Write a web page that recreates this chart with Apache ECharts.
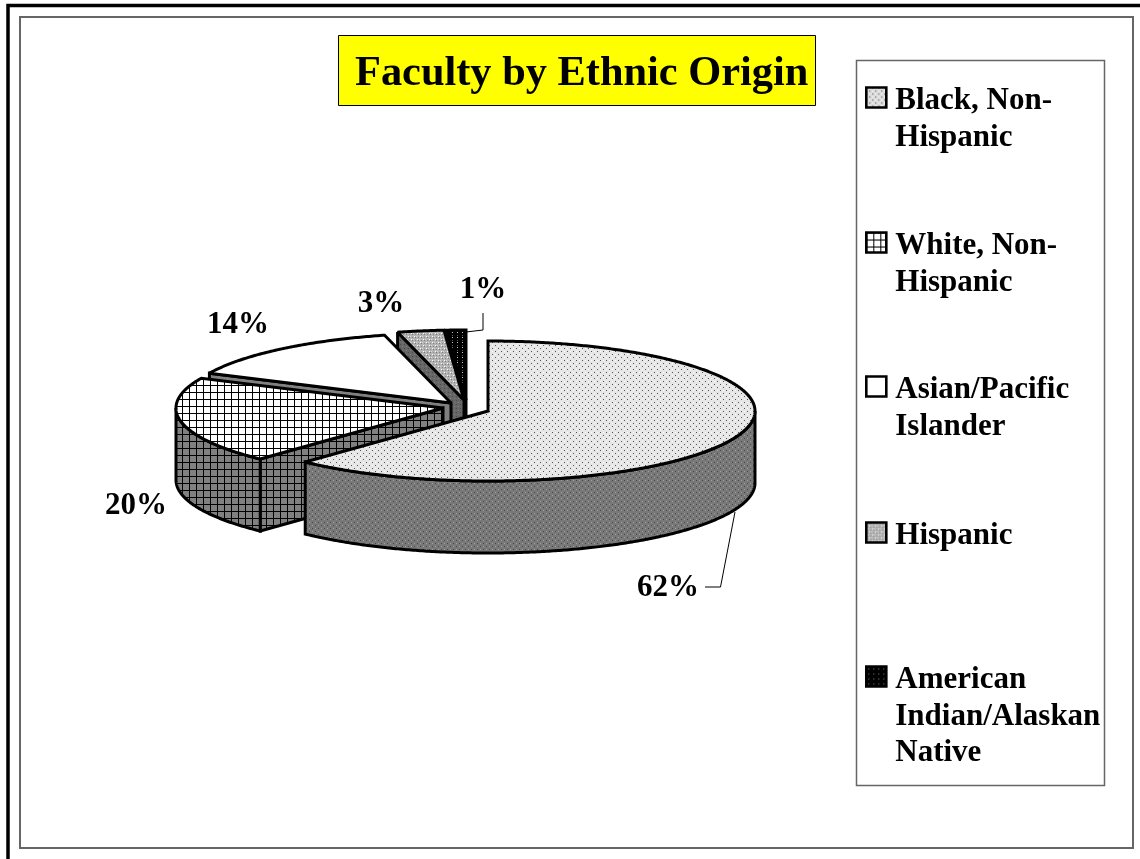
<!DOCTYPE html>
<html>
<head>
<meta charset="utf-8">
<style>html,body{margin:0;padding:0;background:#fff}#c{width:1140px;height:859px}</style>
<script src="https://cdn.jsdelivr.net/npm/echarts@6/dist/echarts.min.js"></script>
</head>
<body>
<div id="c"></div>
<script>
// ---- data ----
const categories = ['Black, Non-Hispanic', 'White, Non-Hispanic', 'Asian/Pacific Islander', 'Hispanic', 'American Indian/Alaskan Native'];
const legendLines = [['Black, Non-', 'Hispanic'], ['White, Non-', 'Hispanic'], ['Asian/Pacific', 'Islander'], ['Hispanic'], ['American', 'Indian/Alaskan', 'Native']];
const shares = [62, 20, 14, 2.8, 1.2];
const titleText = 'Faculty by Ethnic Origin';

// ---- layout (not data) ----
const RX = 267, RY = 70, DEPTH = 72;
const centers = [[488, 411], [443, 408], [451, 403], [464, 400], [466, 400]];
const labelPos = [[668, 586], [136, 504], [238, 323], [381, 302], [483, 288]];
const leaders = [[[735, 512], [720.5, 587], [705, 587]], null, null, null, [[466, 332], [483, 330], [483, 313]]];
const legendFirstLineY = [98, 243, 387, 533, 677];
const LINE_H = 36.5, TEXT_SHIFT = 7, FONT = '"Liberation Serif"';

// ---- patterns ----
function tile(w, h, base, pts) {
  const c = document.createElement('canvas'); c.width = w; c.height = h;
  const g = c.getContext('2d');
  g.fillStyle = base; g.fillRect(0, 0, w, h);
  pts.forEach(p => { g.fillStyle = p[2]; g.fillRect(p[0], p[1], p[3] || 1, p[4] || 1); });
  return { image: c, repeat: 'repeat' };
}
const stipple = (base, dark, light) => tile(6, 6, base, [[0, 0, dark], [3, 3, dark], [3, 0, light], [0, 3, light]]);
function grid(base) {
  const c = document.createElement('canvas'); c.width = 7; c.height = 7;
  const g = c.getContext('2d');
  g.fillStyle = base; g.fillRect(0, 0, 7, 7);
  g.fillStyle = '#000'; g.fillRect(0, 0, 7, 1); g.fillRect(0, 0, 1, 7);
  return { image: c, repeat: 'repeat' };
}
const hisp = tile(6, 6, '#b4b4b4', [[0, 0, '#ffffff', 1, 1], [3, 3, '#ffffff', 1, 1], [1, 1, '#7a7a7a'], [4, 4, '#7a7a7a'], [4, 1, '#8a8a8a'], [1, 4, '#8a8a8a'], [2, 0, '#d8d8d8'], [5, 3, '#d8d8d8']]);
const hispSide = tile(4, 4, '#666666', [[0, 0, '#4a4a4a'], [2, 2, '#808080']]);
const topFill = [stipple('#e6e6e6', '#555555', '#ffffff'), grid('#ffffff'), '#ffffff', hisp, tile(5, 5, '#000000', [[2, 2, '#c8c8c8'], [2, 0, '#555555']])];
const sideFill = [stipple('#787878', '#444444', '#a0a0a0'), grid('#808080'), '#808080', hispSide, tile(5, 5, '#000000', [[2, 2, '#777777']])];
const legendFill = [stipple('#dcdcdc', '#555555', '#ffffff'), grid('#ffffff'), '#ffffff', hisp, tile(5, 5, '#000000', [[2, 2, '#888888']])];

// ---- geometry derived from the shares ----
const total = shares.reduce((a, b) => a + b, 0);
const angles = [];
shares.reduce((acc, v) => { angles.push([acc / total * 360, (acc + v) / total * 360]); return acc + v; }, 0);
const rad = d => d * Math.PI / 180;
const edge = (c, a) => [c[0] + RX * Math.sin(rad(a)), c[1] - RY * Math.cos(rad(a))];
function arc(c, a0, a1) {
  const n = Math.max(2, Math.ceil(Math.abs(a1 - a0) * 2)), out = [];
  for (let i = 0; i <= n; i++) out.push(edge(c, a0 + (a1 - a0) * i / n));
  return out;
}
const down = p => [p[0], p[1] + DEPTH];
const STROKE = 3;

function renderSlice(i, value) {
  const span = value / total * 360;
  const a0 = angles[i][0], a1 = a0 + span, c = centers[i];
  const kids = [];
  const face = (pts, fill) => kids.push({ type: 'polygon', shape: { points: pts }, style: { fill: fill, stroke: '#000', lineWidth: STROKE, lineJoin: 'miter', miterLimit: 2 } });
  // visible cut face on the start radius
  if (Math.sin(rad(a0)) < -1e-6) {
    const e = edge(c, a0);
    face([c, e, down(e), down(c)], sideFill[i]);
  }
  // visible cut face on the end radius
  if (Math.sin(rad(a1)) > 1e-6) {
    const e = edge(c, a1);
    face([c, e, down(e), down(c)], sideFill[i]);
  }
  // visible outer rim
  const r0 = Math.max(a0, 90), r1 = Math.min(a1, 270);
  if (r1 > r0) {
    const top = arc(c, r0, r1);
    face(top.concat(top.map(down).reverse()), sideFill[i]);
  }
  // top surface
  face([c].concat(arc(c, a0, a1)), topFill[i]);
  // leader line
  if (leaders[i]) kids.push({ type: 'polyline', shape: { points: leaders[i] }, style: { fill: null, stroke: '#000', lineWidth: 1 } });
  // percent label
  kids.push({ type: 'text', x: labelPos[i][0], y: labelPos[i][1] + 2, style: { text: Math.round(value) + '%', fill: '#000', font: 'bold 31px ' + FONT, align: 'center', verticalAlign: 'middle' } });
  return { type: 'group', children: kids };
}

const series = categories.map((name, i) => ({
  type: 'custom', name: name, coordinateSystem: 'none', silent: true, animation: false,
  z: 5 - i, data: [shares[i]],
  itemStyle: { color: '#888' },
  renderItem: (p, api) => renderSlice(i, api.value(0))
}));

const legends = categories.map((name, i) => {
  const n = legendLines[i].length;
  const parts = ['{g| }'];
  for (let k = 0; k < n - 1; k++) parts.push('{t| }');
  legendLines[i].forEach(l => parts.push('{t|' + l + '}'));
  const text = parts.join('\n');
  const blockH = TEXT_SHIFT + (2 * n - 1) * LINE_H;
  return {
    orient: 'vertical', left: 865, top: legendFirstLineY[i] - 0.5 - blockH / 2, padding: 0,
    itemWidth: 20, itemHeight: 20, selectedMode: false,
    formatter: () => text,
    textStyle: {
      padding: [0, 0, 0, 4],
      rich: {
        g: { fontSize: 1, lineHeight: TEXT_SHIFT, height: TEXT_SHIFT },
        t: { fontFamily: FONT, fontWeight: 'bold', fontSize: 31, lineHeight: LINE_H, height: LINE_H, color: '#000' }
      }
    },
    data: [{ name: name, icon: 'rect', itemStyle: { color: legendFill[i], borderColor: '#000', borderWidth: 2.6 } }]
  };
});

const chart = echarts.init(document.getElementById('c'), null, { width: 1140, height: 859, renderer: 'canvas' });
chart.setOption({
  animation: false,
  backgroundColor: '#fff',
  title: {
    text: titleText, left: 338, top: 35,
    padding: [18, 7, 10, 17], backgroundColor: '#ffff00', borderColor: '#000', borderWidth: 1,
    textStyle: { fontFamily: FONT, fontWeight: 'bold', fontSize: 42.4, lineHeight: 43, color: '#000' }
  },
  legend: legends,
  graphic: [
    { type: 'polyline', z: -2, shape: { points: [[8, 859], [8, 5.5], [1140, 5.5]] }, style: { fill: null, stroke: '#000', lineWidth: 3.5 } },
    { type: 'rect', z: -2, shape: { x: 20, y: 17, width: 1113, height: 831 }, style: { fill: null, stroke: '#666', lineWidth: 2 } },
    { type: 'rect', z: -2, shape: { x: 856.5, y: 60.5, width: 248, height: 725 }, style: { fill: null, stroke: '#666', lineWidth: 1.5 } }
  ],
  series: series
});
</script>
</body>
</html>
